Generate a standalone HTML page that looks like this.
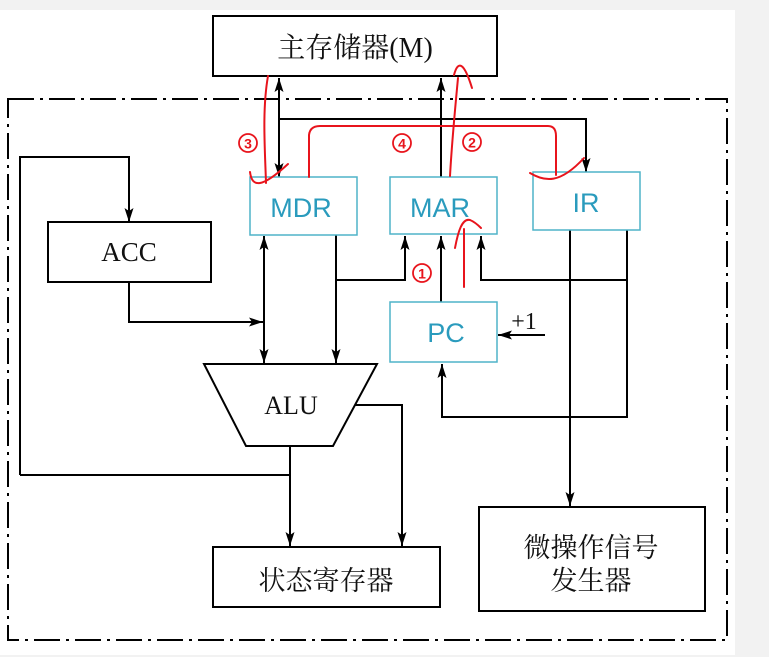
<!DOCTYPE html>
<html><head><meta charset="utf-8"><style>
html,body{margin:0;padding:0;width:769px;height:657px;overflow:hidden;background:#f2f2f2}
svg{display:block}
.t{font-family:"Liberation Serif","Noto Serif CJK SC",serif;fill:#111}
.c{font-family:"Liberation Sans","DejaVu Sans",sans-serif;fill:#2a9bbd}
.r{font-family:"Liberation Sans",sans-serif;fill:#e8141c;font-weight:bold}
</style></head><body>
<svg width="769" height="657" viewBox="0 0 769 657" xmlns="http://www.w3.org/2000/svg">
<defs><marker id="a" viewBox="0 0 14 9" refX="14" refY="4.5" markerWidth="14" markerHeight="9" markerUnits="userSpaceOnUse" orient="auto"><path d="M0,0 L14,4.5 L0,9 L3,4.5 Z" fill="#000"/></marker></defs>
<rect x="0" y="10" width="735" height="645" fill="#fff"/>
<g fill="none" stroke="#000" stroke-width="2">
<rect x="213" y="16" width="284" height="60" fill="#fff"/>
<path d="M8,99 H727 V640 H8 Z" stroke-dasharray="26,6,3,6"/>
<rect x="48" y="222" width="163" height="60"/>
<rect x="213" y="547" width="227" height="60"/>
<rect x="479" y="507" width="226" height="104"/>
<path d="M204,364 H377 L333,446 H246 Z"/>
<path d="M279,119 V78" marker-end="url(#a)"/>
<path d="M279,100 V177" marker-end="url(#a)"/>
<path d="M279,119 H586 V172" marker-end="url(#a)"/>
<path d="M441,177 V78" marker-end="url(#a)"/>
<path d="M20,475 V157 H129 V222" marker-end="url(#a)"/>
<path d="M20,475 H290"/>
<path d="M129,282 V322 H263" marker-end="url(#a)"/>
<path d="M264,300 V236" marker-end="url(#a)"/>
<path d="M264,300 V363" marker-end="url(#a)"/>
<path d="M336,235 V363" marker-end="url(#a)"/>
<path d="M336,280 H405 V236" marker-end="url(#a)"/>
<path d="M441,302 V236" marker-end="url(#a)"/>
<path d="M627,230 V280 H481 V236" marker-end="url(#a)"/>
<path d="M570,230 V506" marker-end="url(#a)"/>
<path d="M627,280 V417 H442 V364" marker-end="url(#a)"/>
<path d="M545,335 H498" marker-end="url(#a)"/>
<path d="M290,446 V546" marker-end="url(#a)"/>
<path d="M355,405 H402 V546" marker-end="url(#a)"/>
</g>
<g fill="#fff" stroke="#4fb3c8" stroke-width="1.5">
<rect x="250" y="177" width="107" height="58"/>
<rect x="390" y="177" width="107" height="57"/>
<rect x="533" y="172" width="107" height="58"/>
<rect x="390" y="302" width="107" height="60"/>
</g>
<text class="t" x="355" y="57" font-size="28" text-anchor="middle">主存储器(M)</text>
<text class="t" x="129" y="261" font-size="27" text-anchor="middle">ACC</text>
<text class="t" x="291" y="414" font-size="26" text-anchor="middle">ALU</text>
<text class="t" x="326" y="590" font-size="27" text-anchor="middle">状态寄存器</text>
<text class="t" x="591" y="557" font-size="27" text-anchor="middle">微操作信号</text>
<text class="t" x="591" y="590" font-size="27" text-anchor="middle">发生器</text>
<text class="t" x="524" y="329" font-size="24" text-anchor="middle">+1</text>
<text class="c" x="301" y="217" font-size="27" text-anchor="middle">MDR</text>
<text class="c" x="440" y="217" font-size="27" text-anchor="middle">MAR</text>
<text class="c" x="586" y="212" font-size="27" text-anchor="middle">IR</text>
<text class="c" x="446" y="342" font-size="27" text-anchor="middle">PC</text>
<g fill="none" stroke="#e8141c" stroke-width="2" stroke-linecap="round">
<path d="M268,76 C262,110 265,150 266,183"/>
<path d="M250,172 C252,188 262,188 288,164"/>
<path d="M309,177 V135 Q310,126 320,126 H548 Q556,126 556,136 V175"/>
<path d="M530,173 C545,182 560,184 584,158"/>
<path d="M450,176 C452,140 455,110 458,78"/>
<path d="M454,75 C458,60 464,62 472,88"/>
<path d="M464,287 V229"/>
<path d="M455,248 C458,232 462,218 470,220 C475,222 478,225 481,228"/>
</g>
<g>
<circle cx="248" cy="143" r="9" fill="none" stroke="#e8141c" stroke-width="1.8"/><text class="r" x="248" y="148.5" text-anchor="middle" font-size="14">3</text>
<circle cx="402" cy="143" r="9" fill="none" stroke="#e8141c" stroke-width="1.8"/><text class="r" x="402" y="148.5" text-anchor="middle" font-size="14">4</text>
<circle cx="472" cy="142" r="9" fill="none" stroke="#e8141c" stroke-width="1.8"/><text class="r" x="472" y="147.5" text-anchor="middle" font-size="14">2</text>
<circle cx="422" cy="273" r="9" fill="none" stroke="#e8141c" stroke-width="1.8"/><text class="r" x="422" y="278.5" text-anchor="middle" font-size="14">1</text>
</g>
</svg>
</body></html>
